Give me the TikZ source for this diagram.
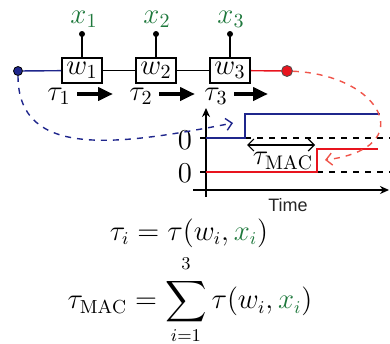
\documentclass[tikz,border=0pt]{standalone}
\usepackage{amsmath}
\usepackage{fontspec}
\newfontfamily\timefont{Liberation Sans}
\usetikzlibrary{arrows.meta}
\definecolor{navy}{RGB}{31,38,140}
\definecolor{sigred}{RGB}{232,20,30}
\definecolor{dashred}{RGB}{240,85,75}
\definecolor{xgreen}{RGB}{30,120,60}
\begin{document}
\begin{tikzpicture}[x=0.5pt,y=-0.5pt]
\tikzstyle{every node}+=[inner sep=0pt,font=\fontsize{14}{16}\selectfont]
\tikzstyle{wbox}=[draw,line width=0.9pt,minimum width=20pt,minimum height=12.5pt]
\tikzstyle{pin}=[line width=0.8pt]
\tikzstyle{tarrow}=[line width=2pt,-{Triangle[length=7.5pt,width=6.5pt]}]
\tikzstyle{axis}=[line width=0.8pt,-{Stealth[length=4.5pt,width=4pt]}]
\tikzstyle{formula}=[font=\fontsize{13.5}{15}\selectfont]
\useasboundingbox (0,0) rectangle (390,343);
% chain of weights
\node [wbox] (w1) at (82,70.5) {$w_1$};
\node [wbox] (w2) at (156,70.5) {$w_2$};
\node [wbox] (w3) at (230,70.5) {$w_3$};
\node [circle,draw=black,fill=navy,minimum size=4.5pt,line width=0.4pt] (src) at (18,71) {};
\node [circle,draw=black!70,fill=sigred,minimum size=5.5pt,line width=0.4pt] (dst) at (287,71) {};
\draw [navy,line width=0.7pt] (src) -- (w1);
\draw [line width=0.7pt] (w1) -- (w2);
\draw [line width=0.7pt] (w2) -- (w3);
\draw [sigred,line width=0.7pt] (w3) -- (dst);
% inputs
\coordinate (p1) at (82,34);
\coordinate (p2) at (156,34);
\coordinate (p3) at (230,34);
\draw [pin] (w1.north) -- (p1);
\draw [pin] (w2.north) -- (p2);
\draw [pin] (w3.north) -- (p3);
\fill (p1) circle (1.5pt);
\fill (p2) circle (1.5pt);
\fill (p3) circle (1.5pt);
\node [text=xgreen] (x1) at (84,19) {$x_1$};
\node [text=xgreen] (x2) at (157,19) {$x_2$};
\node [text=xgreen] (x3) at (231,19) {$x_3$};
% delays
\node (t1) at (59,96) {$\tau_1$};
\node (t2) at (141,96) {$\tau_2$};
\node (t3) at (216,96) {$\tau_3$};
\draw [tarrow] ([xshift=3pt]t1.east |- 0,94) -- (113,94);
\draw [tarrow] ([xshift=3pt]t2.east |- 0,94) -- (195,94);
\draw [tarrow] ([xshift=3pt]t3.east |- 0,94) -- (268,94);
% timing plot
\coordinate (ybot) at (206,197);
\coordinate (ytop) at (206,108);
\coordinate (xl) at (193,190);
\coordinate (xr) at (389,190);
\draw [axis] (ybot) -- (ytop);
\draw [axis] (xl) -- (xr);
\draw [line width=0.7pt] (200,138) -- (206,138);
\draw [line width=0.7pt] (200,172) -- (206,172);
\node (z1) at (185,140) {$0$};
\node (z2) at (185,173) {$0$};
\draw [dashed,line width=0.7pt] (245,138) -- (390,138);
\draw [dashed,line width=0.7pt] (317,172) -- (390,172);
\draw [navy,line width=1pt] (206,138) -- (245,138) -- (245,114) -- (380,114);
\draw [sigred,line width=1pt] (206,172) -- (317,172) -- (317,149) -- (378,149);
\coordinate (ma) at (247,145);
\coordinate (mb) at (315,145);
\draw [line width=0.6pt,{Straight Barb[length=3pt,width=6pt]}-{Straight Barb[length=3pt,width=6pt]}] (ma) -- (mb);
\node (tmac) at (283,161) {$\tau_{\mathrm{MAC}}$};
\node [font=\timefont\fontsize{9}{10}\selectfont,text=black!85] (time) at (288,205) {Time};
% transfer curves
\coordinate (bend) at (233,123);
\coordinate (rend) at (325,160);
\draw [navy,dashed,line width=0.7pt,-{Straight Barb[length=3pt,width=6pt]}] (src) .. controls (18,160) and (120,145) .. (bend);
\draw [dashred,dashed,line width=0.7pt,-{Straight Barb[length=3pt,width=6pt]}] (dst) .. controls (382,75) and (420,148) .. (rend);
% formulas
\node [formula] (f1) at (189,233) {$\tau_i = \tau(w_i, \textcolor{xgreen}{x_i})$};
\node [formula] (f2) at (190,300) {$\displaystyle\tau_{\mathrm{MAC}} = \sum_{i=1}^{\raisebox{1.5pt}{$\scriptstyle 3$}} \tau(w_i, \textcolor{xgreen}{x_i})$};
\end{tikzpicture}
\end{document}
